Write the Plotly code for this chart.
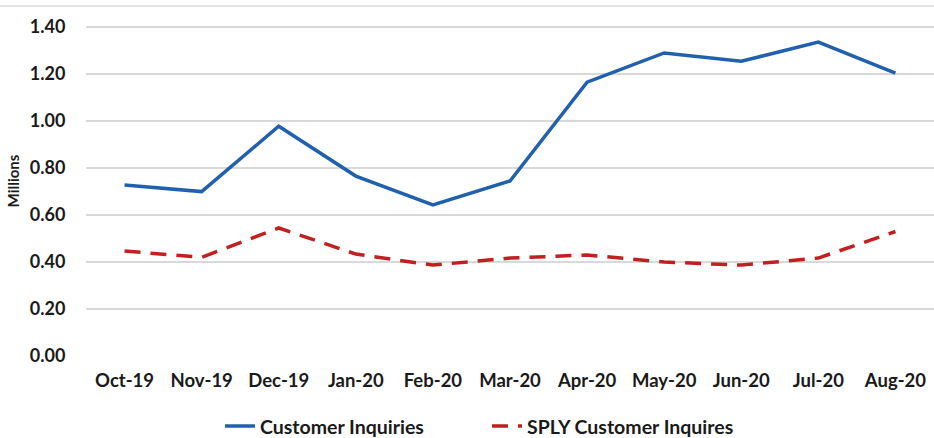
import plotly.graph_objects as go

months = ["Oct-19", "Nov-19", "Dec-19", "Jan-20", "Feb-20", "Mar-20",
          "Apr-20", "May-20", "Jun-20", "Jul-20", "Aug-20"]
inquiries = [0.728, 0.700, 0.978, 0.766, 0.643, 0.745, 1.166, 1.290, 1.255, 1.336, 1.204]
sply = [0.447, 0.420, 0.545, 0.434, 0.387, 0.417, 0.430, 0.400, 0.387, 0.417, 0.530]
y_ticks = [0, 0.2, 0.4, 0.6, 0.8, 1.0, 1.2, 1.4]

font = "Lato, Open Sans, sans-serif"
ink = "#1a1a1a"

fig = go.Figure()
fig.add_scatter(x=months, y=inquiries, mode="lines", name="Customer Inquiries",
                line=dict(color="#2160ad", width=3.5))
fig.add_scatter(x=months, y=sply, mode="lines", name="SPLY Customer Inquires",
                line=dict(color="#c0201f", width=3.5, dash="16px,10px"))

fig.update_layout(
    width=934, height=438,
    margin=dict(l=86, r=0, t=6, b=82, autoexpand=False),
    plot_bgcolor="white", paper_bgcolor="white",
    font=dict(family=font, size=17, color=ink),
    legend=dict(orientation="h", x=0.158, xanchor="left", y=-0.145, yanchor="top",
                font=dict(family=font, size=19.5, color=ink, weight="bold"),
                entrywidth=222, entrywidthmode="pixels", tracegroupgap=0),
    xaxis=dict(showgrid=False, showline=False, range=[-0.5, 10.5], automargin=False,
               ticks="outside", ticklen=8, tickcolor="rgba(0,0,0,0)",
               tickfont=dict(family=font, size=18.5, color=ink, weight="bold")),
    yaxis=dict(range=[0, 1.49], tickvals=y_ticks, tickformat=".2f", automargin=False,
               gridcolor="#d9d9d9", gridwidth=1.5, zeroline=False, showline=False,
               ticks="outside", ticklen=16, tickcolor="rgba(0,0,0,0)",
               tickfont=dict(family=font, size=18, color=ink, weight="bold"),
               title=dict(text="<b>Millions</b>", standoff=6,
                          font=dict(family=font, size=15, color=ink))),
    showlegend=True,
)
fig.add_shape(type="line", xref="paper", yref="paper", x0=-0.11, x1=1.0, y0=1.0, y1=1.0,
              line=dict(color="#d9d9d9", width=1.5))

fig.write_html("out.html", config={"displayModeBar": False},
               post_script="document.body.style.margin='0';document.body.style.overflow='hidden';")
